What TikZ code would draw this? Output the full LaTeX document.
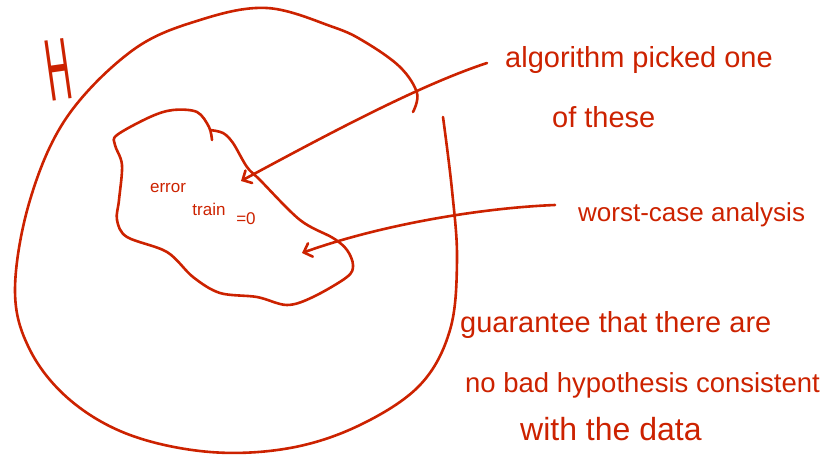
\documentclass[tikz,border=0pt]{standalone}
\usepackage{fontspec}
\setmainfont{Liberation Sans}
\usetikzlibrary{arrows.meta}

\definecolor{ink}{RGB}{204,34,0}

\begin{document}
\begin{tikzpicture}[
  x=1pt,y=-1pt,
  ink/.style={draw=ink,line width=2.6pt,line cap=round,line join=round},
  pointer/.style={ink,-{Straight Barb[angle=90:10pt,line cap=round]}},
  note/.style={anchor=base west,text=ink,inner sep=0pt,
               font=\fontsize{29}{32}\selectfont},
  small/.style={text=ink,inner sep=0pt,
                font=\fontsize{17}{17}\selectfont},
]
\useasboundingbox (0,0) rectangle (830,457);

% ---- the hypothesis space H: a big open loop ----
\draw[ink] plot[smooth,tension=0.6] coordinates {
  (413,112) (417,93) (400,67) (365,42) (333,27) (267,8) (200,20)
  (133,50) (67,117) (30,200) (15,290) (30,350) (70,400) (130,435)
  (210,452) (290,448) (360,425) (420,385) (450,330) (457,260)
  (452,190) (443,117)};
\node[text=ink,font=\fontsize{40}{40}\selectfont,inner sep=0pt,rotate=8]
     (hspace) at (58,70) {\scalebox{0.85}[2.2]{H}};

% ---- inner blob: hypotheses with zero training error ----
\draw[ink] plot[smooth,tension=0.55] coordinates {
  (212,140) (209,127) (197,112) (173,110) (150,117) (117,135)
  (115,145) (122,165) (119,200) (117,220) (127,237) (167,252)
  (193,277) (220,293) (257,297) (287,305) (313,297) (347,277)
  (353,265) (347,250) (333,238) (300,220) (260,180) (247,167)
  (233,143) (223,133) (210,130)};
\node[small] (errword)   at (168,188) {error};
\node[small] (trainword) at (209,209) {train};
\node[small] (zeroword)  at (246,219) {=0};

% ---- notes on the right ----
\node[note] (picked) at (505,68) {algorithm picked one};
\node[note] (pickedb) at (552,128) {of these};
\node[note,font=\fontsize{26}{30}\selectfont] (worst) at (578,222)
     {worst-case analysis};
\node[note] (guara) at (460,332) {guarantee that there are};
\node[note,font=\fontsize{27.5}{30}\selectfont] (guarb) at (465,392)
     {no bad hypothesis consistent};
\node[note,font=\fontsize{32}{34}\selectfont] (guarc) at (520,440)
     {with the data};

% pointers from the notes into the blob
\coordinate (pickedfrom) at (487,63);
\coordinate (pickedtip)  at (241,181);
\coordinate (worstfrom)  at (555,205);
\coordinate (worsttip)   at (302,253);

\draw[pointer] (pickedfrom) .. controls (420,85) and (330,133) .. (pickedtip);
\draw[pointer] (worstfrom) .. controls (480,208) and (380,225) .. (worsttip);

\end{tikzpicture}
\end{document}
